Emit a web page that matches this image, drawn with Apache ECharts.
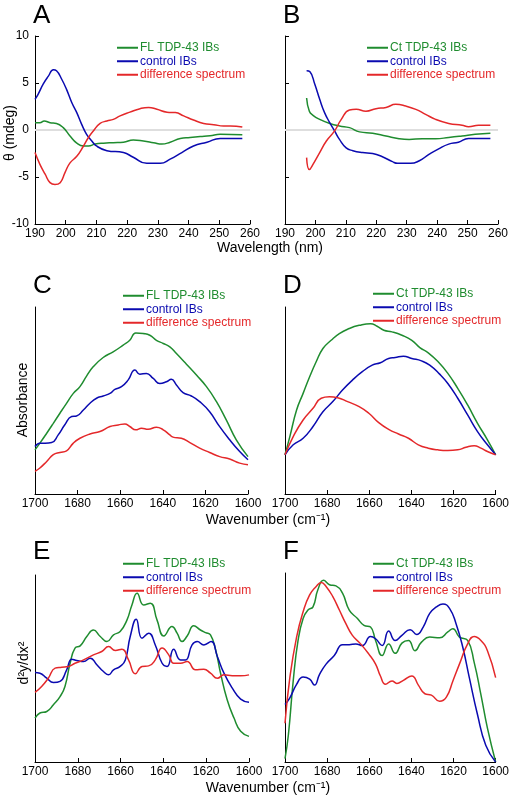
<!DOCTYPE html>
<html><head><meta charset="utf-8">
<script src="https://cdn.jsdelivr.net/npm/echarts@6/dist/echarts.min.js"></script>
<style>html,body{margin:0;padding:0;background:#fff}#c{width:512px;height:800px}</style>
</head><body><div id="c"></div>
<script>
// ---------- Data ----------
// Panel A: CD spectra, FL TDP-43 (wavelength nm, mdeg)
const A_FL = [[190,0.78],[191.6,0.78],[193,0.96],[194.9,0.78],[197,0.7],[199.2,0.25],[201.4,-0.64],[203.6,-1.4],[205.8,-1.7],[207.4,-1.7],[209.6,-1.5],[212.3,-1.4],[215.5,-1.35],[218.8,-1.3],[222,-1.06],[225.3,-1.17],[228.6,-1.35],[231.3,-1.5],[234,-1.3],[237.3,-0.9],[240.5,-0.8],[243.8,-0.7],[247,-0.6],[250.3,-0.46],[257.5,-0.5]];
const A_CTRL = [[190,3.26],[191,3.8],[192.7,4.9],[194.3,5.7],[196,6.4],[197,6.3],[198.7,5.4],[200.3,4.3],[202,2.9],[203.6,1.85],[205.2,0.6],[206.8,-0.46],[208.5,-1.17],[210,-1.7],[213.4,-2.2],[218.8,-2.4],[222,-2.9],[226.4,-3.55],[230.8,-3.55],[234,-3.1],[237.8,-2.4],[241.6,-1.7],[246,-1.3],[250.3,-0.9],[257.5,-0.9]];
const A_DIFF = [[190,-2.4],[191.6,-3.65],[193.3,-4.7],[194.9,-5.6],[196.5,-5.8],[198.2,-5.6],[199.8,-4.5],[201.4,-3.5],[203.6,-2.8],[205.8,-1.7],[207.4,-0.8],[209,-0.1],[211.2,0.7],[213.4,0.96],[215.5,1.13],[217.7,1.5],[220.9,1.9],[224.2,2.27],[227,2.4],[229.7,2.2],[233,1.9],[235.7,1.85],[238.4,1.5],[241.6,1.06],[244.9,0.7],[248.2,0.57],[251.4,0.43],[253.6,0.43],[257.5,0.32]];
// Panel B: CD spectra, Ct TDP-43
const B_CT = [[197.1,3.4],[198,2.0],[199.2,1.56],[201.4,1.13],[204.7,0.7],[207.9,0.43],[211.2,0.25],[214.5,-0.2],[218.8,-0.35],[223.2,-0.64],[227.5,-0.92],[230.8,-1.0],[235.1,-0.92],[239.5,-0.92],[243.8,-0.8],[248.2,-0.64],[252.5,-0.46],[257.5,-0.35]];
const B_CTRL = [[197.1,6.3],[198.2,6.2],[199.8,4.86],[201.4,3.26],[203,1.85],[204.7,0.78],[206.3,-0.1],[207.9,-1.0],[210.1,-1.9],[212.3,-2.2],[215.5,-2.4],[218.8,-2.5],[222,-2.84],[225.3,-3.37],[227,-3.55],[231.3,-3.55],[234,-3.3],[237.3,-2.6],[240.5,-2.0],[243.8,-1.5],[247,-1.3],[250.3,-0.9],[253.6,-0.9],[257.5,-0.9]];
const B_DIFF = [[197.1,-2.94],[198,-4.2],[199.2,-3.65],[201.4,-2.4],[203.6,-1.17],[206.3,-0.1],[208.5,1.13],[211.2,2.13],[213.4,2.2],[216.6,2.0],[219.9,2.27],[223.2,2.4],[226.4,2.73],[229.7,2.55],[233,2.2],[236.2,1.67],[239.5,1.13],[243.8,0.7],[248.2,0.5],[250.3,0.35],[253.6,0.5],[257.5,0.5]];
// Panel C: FTIR absorbance, FL TDP-43 (wavenumber cm-1, arbitrary units)
const C_FL = [[1700,23.6],[1697.7,27.2],[1694.5,32.5],[1691.4,37.8],[1688.3,43.2],[1685.2,48.5],[1682,53.8],[1678.9,57.4],[1675.8,63],[1672.7,68],[1668,73],[1663.3,76],[1658.6,79.6],[1655.5,82.2],[1652.7,86.1],[1649.2,85.8],[1646.1,84.9],[1643,82.2],[1639.8,80.5],[1636.7,78.7],[1633.6,75.1],[1628.9,69.4],[1624.2,63.6],[1619.5,57.4],[1614.8,49.4],[1610.2,39.6],[1605.5,29],[1600,20]];
const C_CTRL = [[1700,25.4],[1697.7,27.2],[1695.3,27.2],[1692.2,27.5],[1689.1,31.6],[1686,37],[1682.8,41.4],[1680.5,41.7],[1677.3,44.9],[1674.2,48.5],[1671.1,51.2],[1668,52.4],[1664.8,53.8],[1662.5,55.9],[1659.4,57.4],[1656.3,60.9],[1653.1,66.3],[1650.8,64.1],[1647.7,64.5],[1644.5,61.8],[1641.4,59.1],[1638.3,60],[1636,61.3],[1633.6,58.3],[1630.5,54.2],[1626.6,52.4],[1622.7,49.4],[1618,44],[1613.3,36],[1608.6,29],[1603.9,22.7],[1600,18.3]];
const C_DIFF = [[1700,12.1],[1697.7,13.9],[1694.5,17.4],[1691.4,21],[1688.3,22.2],[1685.2,23.1],[1682,27.2],[1678.9,29.8],[1674.2,32.1],[1669.5,33.4],[1664.8,36.1],[1660.9,36.9],[1657.8,37.5],[1655.5,36.1],[1652.7,34.3],[1650,35.2],[1646.9,34.6],[1643,35.7],[1639.8,34.3],[1636.7,31.6],[1635.2,30.4],[1631.3,29.8],[1627.3,27.5],[1622.7,24.5],[1618,22.2],[1613.3,20],[1608.6,18.7],[1603.9,16.5],[1600,15.6]];
// Panel D: FTIR absorbance, Ct TDP-43
const D_CT = [[1700,21],[1697.7,30.7],[1694.5,44.9],[1691.4,53.8],[1688.3,62.7],[1685.2,70.7],[1682,77.8],[1678.1,82.2],[1674.2,85.8],[1669.5,88.5],[1664.8,90.2],[1659.4,91.1],[1656.3,89.7],[1653.1,87.6],[1649.2,86.7],[1644.5,84.9],[1639.8,82.2],[1636,78.3],[1632,75.5],[1627.3,70.7],[1622.7,64.5],[1618,56.5],[1613.3,47.6],[1608.6,37.8],[1603.9,29],[1600,21]];
const D_CTRL = [[1700,21],[1696.1,26.3],[1691.4,29.8],[1686.7,36.1],[1682,44],[1677.3,49.4],[1672.7,55.6],[1668,60.9],[1663.3,65.4],[1658.6,68.9],[1654.7,70.2],[1650.8,72.5],[1647.7,73],[1643.8,73.7],[1639.8,72.5],[1635.2,71.2],[1631.3,68.9],[1626.6,64.1],[1622.7,59.1],[1618,51.2],[1613.3,42.3],[1608.6,33.4],[1603.9,26.3],[1600,21]];
const D_DIFF = [[1700,21],[1696.1,30.7],[1691.4,39.6],[1686.7,45.8],[1682.8,51.2],[1678.9,52],[1675,51.5],[1670.3,49.4],[1664.8,46.7],[1660.2,43.2],[1655.5,38.2],[1650.8,34.6],[1646.1,32.1],[1641.4,29.8],[1636.7,26.3],[1632,24.5],[1627.3,23.6],[1622.7,23.3],[1618,23.6],[1614.1,25],[1610.2,25.8],[1607,24.5],[1603.9,22.7],[1600,21]];
// Panel E: second derivative, FL TDP-43
const E_FL = [[1700,23.5],[1697.7,26.2],[1694.5,27],[1691.4,30.6],[1688.3,35],[1686,40.4],[1683.6,52.8],[1681.3,60.9],[1678.9,62.1],[1675.8,67.1],[1672.7,70.6],[1669.5,67.1],[1666.4,64.4],[1663.3,68],[1660.2,69.8],[1657,76],[1654.7,84],[1652.3,90.2],[1649.2,84],[1646.1,84.9],[1643,76],[1639.8,67.4],[1636,72.4],[1633.6,68.9],[1631.3,64.4],[1628.9,67.4],[1625.8,72.8],[1622.7,70.6],[1620.3,69.2],[1618,68],[1615.6,60],[1613.3,47.5],[1610.2,33.3],[1607,23.5],[1603.9,16.4],[1600,13.7]];
const E_CTRL = [[1700,47.9],[1697.7,47.5],[1694.5,44.8],[1691.4,42.5],[1688.3,43.1],[1685.2,49.3],[1682.8,55],[1680.5,54.3],[1677.3,53.7],[1674.2,55.5],[1671.1,52],[1668,48.4],[1665.6,46.6],[1663.3,49.3],[1660.2,51.1],[1657.8,54.6],[1655.5,67.1],[1652.7,76.3],[1650,66.2],[1646.9,68.9],[1643.8,62.6],[1640.6,52.8],[1638.3,51.1],[1635.2,60.3],[1632,54.6],[1629.7,54.6],[1626.6,62.6],[1624.2,64.4],[1621.1,62.6],[1617.7,64.4],[1614.8,56.4],[1611.7,47.5],[1607.8,39.5],[1603.9,33.6],[1600,31.9]];
const E_DIFF = [[1700,37.2],[1696.9,40.4],[1693.8,44.8],[1690.6,50.2],[1687.5,50.7],[1684.4,51.1],[1681.3,52.8],[1677.3,54.6],[1672.7,57.3],[1668.8,59.1],[1665.6,61.7],[1662.5,59.6],[1659.4,60.3],[1656.3,54.6],[1653.1,47.2],[1650,51.1],[1646.9,51.4],[1643.8,54.6],[1640.6,60.9],[1637.5,57.3],[1635.2,52.8],[1632,52.8],[1628.9,53.7],[1625,49.3],[1621.1,49.6],[1618,47.5],[1614.8,44.8],[1611.7,46.6],[1607.8,46.1],[1603.9,46.1],[1600,46.6]];
// Panel F: second derivative, Ct TDP-43
const F_CT = [[1700,1.8],[1698.4,14.3],[1696.1,42.9],[1693.8,64.3],[1691.4,75.9],[1689.1,80.4],[1686.7,82.1],[1684.4,91.1],[1681.7,96.1],[1678.9,93.8],[1675.8,93.2],[1672.7,89.3],[1669.5,80.4],[1665.6,75.9],[1662.5,72.3],[1659.4,71.4],[1657,64.3],[1653.9,56.3],[1650.8,62.5],[1647.7,57.5],[1644.5,62.9],[1641.4,64.3],[1638.3,58.9],[1635.2,63.4],[1631.3,66.1],[1626.6,65.7],[1622.7,68.8],[1620.3,70.5],[1617.2,66.1],[1613.3,64.3],[1610.2,52.7],[1607,35.7],[1603.9,17.9],[1600,0]];
const F_CTRL = [[1700,30.4],[1697.7,33.9],[1694.5,41.1],[1691.4,45],[1688.3,43.8],[1686,40.7],[1683.6,46.4],[1680.5,51.8],[1676.6,56.3],[1672.7,62.1],[1669.5,62.1],[1666.4,62.5],[1663.3,61.6],[1659.4,66.4],[1657,65.2],[1653.9,61.6],[1650.8,69.3],[1647.7,64.3],[1644.5,67],[1640.6,70],[1637.5,67.5],[1634.4,71.4],[1631.3,78.6],[1628.1,82.1],[1625,83.6],[1621.9,81.3],[1618.8,73.2],[1615.6,60.7],[1612.5,44.6],[1608.6,25],[1604.7,8.9],[1600,0]];
const F_DIFF = [[1700,20.5],[1697.7,44.6],[1694.5,66.1],[1691.4,79.5],[1688.3,88.4],[1685.2,92.9],[1682.8,95],[1680.5,92.9],[1677.3,87.5],[1674.2,80.4],[1671.1,73.2],[1668,67],[1664.1,62.5],[1660.2,57.1],[1657,51.8],[1654.7,45.5],[1652.3,41.1],[1649.2,42.9],[1646.9,41.6],[1643.8,43.2],[1639.8,45.5],[1636.7,40.7],[1633.6,36.1],[1630.5,35.4],[1626.6,32.1],[1623.4,34.3],[1620.3,42.9],[1617.2,51.8],[1613.3,62.5],[1610.2,66.4],[1607,64.3],[1603.9,58.9],[1600,44.6]];

const panelLetters = ['A','B','C','D','E','F'];
const namesFL = ['FL TDP-43 IBs','control IBs','difference spectrum'];
const namesCt = ['Ct TDP-43 IBs','control IBs','difference spectrum'];
const cdTicksY = [-10,-5,0,5,10];

// ---------- Styling / layout ----------
const GREEN = '#1f8c2f', BLUE = '#0a0ab0', RED = '#e4282a';
const FONT = 'Liberation Sans, Arial, Helvetica, sans-serif';
const grids = [
  {left:35, top:36, width:215, height:188},
  {left:285, top:36, width:213, height:188},
  {left:35, top:307, width:213, height:187},
  {left:285, top:307, width:213, height:187},
  {left:35, top:575, width:214, height:187},
  {left:285, top:573, width:213, height:189}
];
const axisLine = {show:true, onZero:false, lineStyle:{color:'#000', width:1}};
const xAxes = [], yAxes = [];
for (let i = 0; i < 6; i++) {
  const cd = i < 2;
  xAxes.push({
    type:'value', gridIndex:i,
    min: cd ? 190 : 1600, max: cd ? 260 : 1700, interval: cd ? 10 : 20,
    inverse: !cd,
    axisLine: axisLine,
    axisTick: {show:true, inside:true, length:4, lineStyle:{color:'#000'}},
    axisLabel: {show:true, color:'#000', fontSize:12, fontFamily:FONT, margin:4,
      showMinLabel:true, showMaxLabel:true, formatter: v => String(v)},
    splitLine: {show:false}
  });
  yAxes.push({
    type:'value', gridIndex:i,
    min: cd ? cdTicksY[0] : 0, max: cd ? cdTicksY[cdTicksY.length-1] : 100, interval: cd ? 5 : 100,
    axisLine: axisLine,
    axisTick: {show:cd, inside:true, length:4, lineStyle:{color:'#000'}},
    axisLabel: {show:i===0, color:'#000', fontSize:12, fontFamily:FONT, margin:6, formatter: v => String(v)},
    splitLine: {show:false}
  });
}
function line(name, data, color, idx, extra) {
  return Object.assign({
    type:'line', name:name, data:data, xAxisIndex:idx, yAxisIndex:idx,
    showSymbol:false, smooth:0.5, lineStyle:{color:color, width:1.5}, itemStyle:{color:color},
    silent:true, z:3
  }, extra || {});
}
const zeroLine = {markLine:{silent:true, symbol:['none','none'], label:{show:false},
  lineStyle:{color:'#dedede', width:2, type:'solid'}, data:[{yAxis:0}], z:1}};
const panels = [
  [A_FL, A_CTRL, A_DIFF, namesFL],
  [B_CT, B_CTRL, B_DIFF, namesCt],
  [C_FL, C_CTRL, C_DIFF, namesFL],
  [D_CT, D_CTRL, D_DIFF, namesCt],
  [E_FL, E_CTRL, E_DIFF, namesFL],
  [F_CT, F_CTRL, F_DIFF, namesCt]
];
const series = [];
panels.forEach((p, i) => {
  series.push(line(p[3][0], p[0], GREEN, i, i < 2 ? zeroLine : null));
  series.push(line(p[3][1], p[1], BLUE, i));
  series.push(line(p[3][2], p[2], RED, i));
});
const legendPos = [[117,41],[367,41],[123,289],[373,287],[123,557],[373,557]];
const legends = panels.map((p, i) => ({
  orient:'vertical', left:legendPos[i][0], top:legendPos[i][1], padding:0, itemGap:0,
  itemWidth:21, itemHeight:2, icon:'rect', selectedMode:false,
  textStyle:{fontSize:12, fontFamily:FONT, lineHeight:13.5, padding:[0,0,0,-3]},
  data: p[3].map((n, k) => ({name:n, itemStyle:{color:[GREEN,BLUE,RED][k]},
    textStyle:{color:[GREEN,BLUE,RED][k]}}))
}));
const letterPos = [[33,16],[283,16],[33,286],[283,286],[33,552],[283,552]];
const graphics = panelLetters.map((t, i) => ({
  type:'text', x:letterPos[i][0], y:letterPos[i][1],
  style:{text:t, font:'26px ' + FONT, fill:'#000', textAlign:'left', textVerticalAlign:'middle'}
}));
const titleStyle = (t) => ({text:t, font:'14px ' + FONT, fill:'#000', textAlign:'center', textVerticalAlign:'middle'});
graphics.push({type:'text', x:270, y:248, style:titleStyle('Wavelength (nm)')});
graphics.push({type:'text', x:268, y:520, style:titleStyle('Wavenumber (cm\u207B\u00B9)')});
graphics.push({type:'text', x:268, y:788, style:titleStyle('Wavenumber (cm\u207B\u00B9)')});
graphics.push({type:'text', x:10, y:133, rotation:Math.PI/2, style:titleStyle('\u03B8 (mdeg)')});
graphics.push({type:'text', x:23, y:400, rotation:Math.PI/2, style:titleStyle('Absorbance')});
graphics.push({type:'text', x:24, y:663, rotation:Math.PI/2, style:titleStyle('d\u00B2y/dx\u00B2')});

const chart = echarts.init(document.getElementById('c'), null, {renderer:'canvas'});
chart.setOption({
  animation:false,
  backgroundColor:'#fff',
  grid:grids, xAxis:xAxes, yAxis:yAxes, series:series, legend:legends, graphic:graphics
});
</script></body></html>
